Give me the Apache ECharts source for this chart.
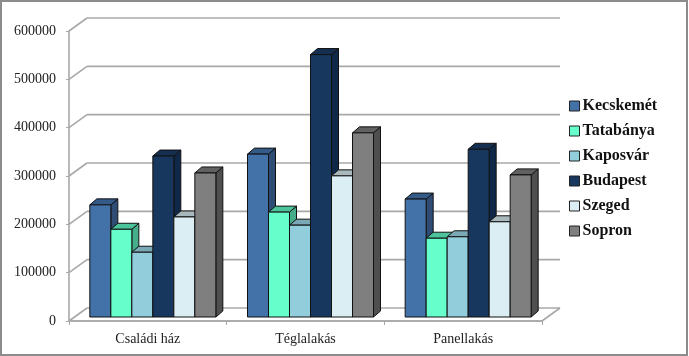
<!DOCTYPE html>
<html>
<head>
<meta charset="utf-8">
<style>html,body{margin:0;padding:0;background:#fff}#c{width:689px;height:356px}</style>
<script src="https://cdn.jsdelivr.net/npm/echarts@6/dist/echarts.min.js"></script>
</head>
<body>
<div id="c"></div>
<script>
var categories = ['Családi ház', 'Téglalakás', 'Panellakás'];
var yTicks = [0, 100000, 200000, 300000, 400000, 500000, 600000];
var kecskemet = [232000, 337000, 244000];
var tatabanya = [181500, 217000, 163000];
var kaposvar = [134000, 190000, 166000];
var budapest = [333000, 543000, 347000];
var szeged = [207000, 292000, 197000];
var sopron = [298000, 381000, 294000];

var palette = [
  {name: 'Kecskemét', data: kecskemet, front: '#4372A8', top: '#345A87', side: '#2E4C74'},
  {name: 'Tatabánya', data: tatabanya, front: '#66FFCC', top: '#4DC39B', side: '#45AD8A'},
  {name: 'Kaposvár', data: kaposvar, front: '#92CDDC', top: '#7AA9B5', side: '#6A95A0'},
  {name: 'Budapest', data: budapest, front: '#17375E', top: '#142F50', side: '#102848'},
  {name: 'Szeged', data: szeged, front: '#DBEEF4', top: '#A9B8BC', side: '#9FAEB2'},
  {name: 'Sopron', data: sopron, front: '#7F7F7F', top: '#616161', side: '#4F4F4F'}
];

var WALL_DX = 18, WALL_DY = -13, BAR_DX = 5, BAR_DY = -4, BAR_W = 21, DEPTH_X = 7, DEPTH_Y = -6;
var EDGE = '#111', GRIDC = '#A8A8A8';

function wallItem(params, api) {
  var cs = params.coordSys;
  var p = api.coord([0, api.value(0)]);
  var y = p[1], x0 = cs.x, x1 = cs.x + cs.width;
  var style = {stroke: GRIDC, lineWidth: 1.6, fill: null};
  var children = [
    {type: 'line', shape: {x1: x0, y1: y, x2: x0 + WALL_DX, y2: y + WALL_DY}, style: style},
    {type: 'line', shape: {x1: x0 + WALL_DX, y1: y + WALL_DY, x2: x1 + WALL_DX, y2: y + WALL_DY}, style: style}
  ];
  if (api.value(0) === 0) {
    children.push({type: 'line', shape: {x1: x1, y1: y, x2: x1 + WALL_DX, y2: y + WALL_DY}, style: style});
    children.push({type: 'line', shape: {x1: x0, y1: y, x2: x1, y2: y}, style: style});
  }
  return {type: 'group', children: children};
}

function barRenderer(idx) {
  return function (params, api) {
    var c = palette[idx];
    var top = api.coord([api.value(0), api.value(1)]);
    var base = api.coord([api.value(0), 0]);
    var l = top[0] + BAR_DX + (idx - 3) * BAR_W, r = l + BAR_W;
    var t = top[1] + BAR_DY, b = base[1] + BAR_DY;
    var line = {stroke: EDGE, lineWidth: 1, lineJoin: 'round'};
    function st(fill) { return {fill: fill, stroke: line.stroke, lineWidth: line.lineWidth, lineJoin: line.lineJoin}; }
    return {type: 'group', children: [
      {type: 'polygon', shape: {points: [[r, t], [r + DEPTH_X, t + DEPTH_Y], [r + DEPTH_X, b + DEPTH_Y], [r, b]]}, style: st(c.side)},
      {type: 'polygon', shape: {points: [[l, t], [l + DEPTH_X, t + DEPTH_Y], [r + DEPTH_X, t + DEPTH_Y], [r, t]]}, style: st(c.top)},
      {type: 'rect', shape: {x: l, y: t, width: BAR_W, height: b - t}, style: st(c.front)}
    ]};
  };
}

var series = [{
  type: 'custom', silent: true, clip: false, z: 1,
  renderItem: wallItem,
  encode: {y: 0},
  data: yTicks.map(function (v) { return [v]; })
}];
palette.forEach(function (c, i) {
  series.push({
    type: 'custom', name: c.name, clip: false, z: 3,
    renderItem: barRenderer(i),
    itemStyle: {color: c.front},
    encode: {x: 0, y: 1},
    data: c.data.map(function (v, j) { return [j, v]; })
  });
});

var chart = echarts.init(document.getElementById('c'), null, {renderer: 'canvas'});
chart.setOption({
  animation: false,
  backgroundColor: '#fff',
  textStyle: {fontFamily: 'Liberation Serif'},
  graphic: [{type: 'rect', silent: true, z: 0,
    shape: {x: 1, y: 1, width: 686, height: 354},
    style: {fill: 'none', stroke: '#8C8C8C', lineWidth: 2}}],
  grid: {left: 69, top: 31, width: 473, height: 290},
  xAxis: {
    type: 'category', data: categories, boundaryGap: true,
    axisLine: {show: true, lineStyle: {color: GRIDC, width: 1.6}},
    axisTick: {show: true, length: 4, alignWithLabel: false, lineStyle: {color: GRIDC}},
    axisLabel: {color: '#222', fontFamily: 'Liberation Serif', fontSize: 14, margin: 11}
  },
  yAxis: {
    type: 'value', min: 0, max: 600000, interval: 100000,
    axisLine: {show: true, lineStyle: {color: GRIDC, width: 1.6}},
    axisTick: {show: true, length: 3, lineStyle: {color: GRIDC}},
    splitLine: {show: false},
    axisLabel: {color: '#222', fontFamily: 'Liberation Serif', fontSize: 14, margin: 13, padding: [4, 0, 0, 0],
      formatter: function (v) { return String(v); }}
  },
  legend: {
    orient: 'vertical', left: 569, top: 98, padding: 0, itemWidth: 10, itemHeight: 10, itemGap: 9,
    icon: 'rect', selectedMode: false,
    data: palette.map(function (c) { return c.name; }),
    itemStyle: {borderColor: '#222', borderWidth: 1},
    textStyle: {fontFamily: 'Liberation Serif', fontWeight: 'bold', fontSize: 16, color: '#111', padding: [0, 0, 0, -2], height: 16, lineHeight: 16}
  },
  series: series
});
</script>
</body>
</html>
